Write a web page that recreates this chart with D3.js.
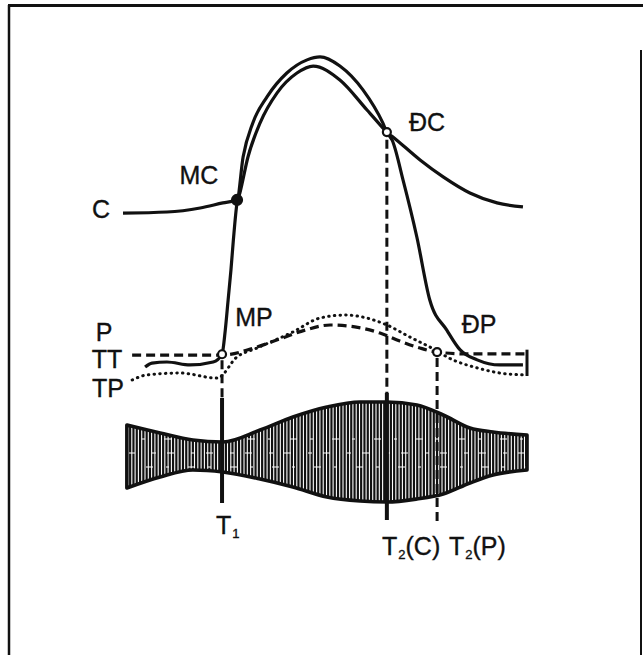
<!DOCTYPE html>
<html>
<head>
<meta charset="utf-8">
<script src="https://cdn.jsdelivr.net/npm/d3@7"></script>
<style>
body { margin: 0; background: #fff; }
text { font-family: "Liberation Sans", Arial, sans-serif; font-size: 25px; fill: #111; stroke: #111; stroke-width: 0.35; }
</style>
</head>
<body>
<svg id="chart" width="643" height="655"></svg>
<script>
// time axis is in arbitrary units 0..100, pressure in arbitrary units 0..120
var aortaTime = [0.25, 11.1, 19.3, 24.9, 28.4, 29.9, 32.3, 35.8, 40.7, 45.7, 48.9, 53.8, 59.5, 64.4, 65.4, 66.9, 73.6, 79.3, 85.9, 92.6, 99.0],
	aortaPressure = [62.2, 62.6, 64.1, 66.0, 67.1, 83.1, 95.8, 105.5, 114.4, 119.3, 120.4, 117.0, 108.1, 95.8, 92.4, 90.6, 82.0, 75.7, 69.7, 66.0, 64.5];

var ventTime = [5.7, 7.4, 11.1, 16.8, 22.5, 24.7, 25.5, 26.2, 26.9, 27.5, 28.4, 29.1, 31.1, 34.1, 38.3, 43.2, 47.2, 53.8, 60.5, 64.4, 65.4, 66.7, 69.4, 72.8, 76.0, 80.2, 83.5, 87.7, 93.3, 99.0],
	ventPressure = [4.8, 6.3, 6.7, 5.6, 6.7, 9.6, 18.6, 29.8, 41.0, 52.2, 66.0, 69.7, 83.1, 95.8, 107.0, 114.4, 117.0, 111.8, 100.6, 93.9, 92.1, 89.4, 74.5, 53.3, 29.8, 18.6, 11.2, 7.5, 5.6, 5.6];

var pulmTime = [2.5, 24.7, 33.3, 39.0, 45.2, 51.4, 57.5, 63.7, 68.6, 73.6, 77.8, 85.2, 100],
	pulmPressure = [9.3, 9.3, 12.3, 15.3, 18.6, 20.5, 19.8, 17.5, 14.5, 11.9, 10.4, 9.7, 9.7];

var rightTime = [2.5, 6.2, 14.3, 23.5, 28.4, 33.3, 42.2, 48.9, 55.1, 65.4, 71.1, 76.0, 81.7, 87.7, 93.3, 99.0],
	rightPressure = [0, 1.9, 2.6, 0.7, 8.6, 11.9, 17.9, 23.1, 24.2, 20.5, 16.0, 12.3, 7.5, 4.5, 2.6, 1.9];

// heart sound envelope (amplitude units)
var soundTime = [1.2, 9.4, 17.5, 24.9, 34.1, 42.2, 50.6, 58.8, 65.4, 72.8, 79.3, 85.9, 91.6, 100],
	soundUpper = [6, 4.4, 3, 2.6, 5, 7.6, 9.6, 10.6, 10.6, 10, 8, 5.4, 4.6, 4],
	soundLower = [-6.6, -4.4, -3, -3.4, -4.8, -6.4, -8.4, -9.2, -9.4, -8.8, -7.8, -5.6, -4, -3];

// valve events: open markers and filled marker
var events = [
	{name: "MC", t: 28.4, p: 67.1, filled: true},
	{name: "ĐC", t: 65.4, p: 92.4, filled: false},
	{name: "MP", t: 24.7, p: 9.6, filled: false},
	{name: "ĐP", t: 77.8, p: 10.4, filled: false}
];

// sound timing lines: dashed part from pressure, solid part in envelope
var soundLines = [
	{t: 24.7, fromP: 7.4, dashTo: 11.4, solidTo: -9.6, solid: true},
	{t: 65.4, fromP: 89.5, dashTo: 12.4, solidTo: -13, solid: true},
	{t: 77.8, fromP: 8.2, dashTo: -13.6, solidTo: -13.6, solid: false}
];

var svg = d3.select("#chart");

var x = d3.scaleLinear().domain([0, 100]).range([122, 527]),
	y = d3.scaleLinear().domain([0, 120]).range([380, 58]),
	ya = d3.scaleLinear().domain([-10, 10]).range([505, 405]);

// frame
svg.append("line").attr("x1", 9).attr("y1", 5).attr("x2", 9).attr("y2", 655).attr("stroke", "#111").attr("stroke-width", 2.5);
svg.append("line").attr("x1", 8).attr("y1", 5.5).attr("x2", 643).attr("y2", 5.5).attr("stroke", "#111").attr("stroke-width", 3);
svg.append("line").attr("x1", 641).attr("y1", 50).attr("x2", 641).attr("y2", 655).attr("stroke", "#111").attr("stroke-width", 2);

function zipPts(ts, ps){
	return ts.map(function(t, i){ return [t, ps[i]]; });
}

var pLine = d3.line()
	.x(function(d){ return x(d[0]); })
	.y(function(d){ return y(d[1]); })
	.curve(d3.curveMonotoneX);

// sound envelope
var env = soundTime.map(function(t, i){ return {t: t, hi: soundUpper[i], lo: soundLower[i]}; });
var envArea = d3.area()
	.x(function(d){ return x(d.t); })
	.y0(function(d){ return ya(d.lo); })
	.y1(function(d){ return ya(d.hi); })
	.curve(d3.curveMonotoneX);

svg.append("clipPath").attr("id", "envClip")
	.append("path").attr("d", envArea(env));

var hatch = svg.append("g").attr("clip-path", "url(#envClip)");
hatch.selectAll("line.h")
	.data(d3.range(x(1.2), x(100) + 2, 3.3))
	.enter().append("line")
	.attr("x1", function(d){ return d; })
	.attr("x2", function(d){ return d; })
	.attr("y1", ya(12))
	.attr("y2", ya(-12))
	.attr("stroke", "#111")
	.attr("stroke-width", 2.2);
// scanning breaks inside the hatching
[3.2, 0.4, -2.4].forEach(function(a, i){
	hatch.append("line")
		.attr("x1", x(0)).attr("x2", x(100))
		.attr("y1", ya(a)).attr("y2", ya(a))
		.attr("stroke", "#fff")
		.attr("stroke-width", 1.2)
		.attr("stroke-dasharray", i == 1 ? "4 11 7 17" : "7 13 3 19")
		.attr("stroke-dashoffset", i*9);
});

svg.append("path")
	.attr("d", envArea(env))
	.attr("fill", "none")
	.attr("stroke", "#111")
	.attr("stroke-width", 3.6)
	.attr("stroke-linejoin", "round");

// timing lines
soundLines.forEach(function(s){
	svg.append("line")
		.attr("x1", x(s.t)).attr("x2", x(s.t))
		.attr("y1", y(s.fromP)).attr("y2", ya(s.dashTo))
		.attr("stroke", "#111")
		.attr("stroke-width", 3)
		.attr("stroke-dasharray", "9 5");
	if(s.solid){
		svg.append("line")
			.attr("x1", x(s.t)).attr("x2", x(s.t))
			.attr("y1", ya(s.dashTo)).attr("y2", ya(s.solidTo))
			.attr("stroke", "#111")
			.attr("stroke-width", 4);
	}
});

// pressure curves
svg.append("path")
	.attr("d", pLine(zipPts(rightTime, rightPressure)))
	.attr("fill", "none").attr("stroke", "#111")
	.attr("stroke-width", 3)
	.attr("stroke-linecap", "round")
	.attr("stroke-dasharray", "0.5 5.2");

svg.append("path")
	.attr("d", pLine(zipPts(pulmTime, pulmPressure)))
	.attr("fill", "none").attr("stroke", "#111")
	.attr("stroke-width", 3.2)
	.attr("stroke-dasharray", "9 5");

// end tick of the pulmonary trace
svg.append("line")
	.attr("x1", x(100)).attr("x2", x(100))
	.attr("y1", y(11.3)).attr("y2", y(1.5))
	.attr("stroke", "#111").attr("stroke-width", 3);

svg.append("path")
	.attr("d", pLine(zipPts(ventTime, ventPressure)))
	.attr("fill", "none").attr("stroke", "#111")
	.attr("stroke-width", 3.2)
	.attr("stroke-linejoin", "round");

svg.append("path")
	.attr("d", pLine(zipPts(aortaTime, aortaPressure)))
	.attr("fill", "none").attr("stroke", "#111")
	.attr("stroke-width", 3.2)
	.attr("stroke-linejoin", "round");

// valve markers
svg.selectAll("circle.ev")
	.data(events)
	.enter().append("circle")
	.attr("class", "ev")
	.attr("cx", function(d){ return x(d.t); })
	.attr("cy", function(d){ return y(d.p); })
	.attr("r", function(d){ return d.filled ? 5 : 4; })
	.attr("fill", function(d){ return d.filled ? "#111" : "#fff"; })
	.attr("stroke", "#111")
	.attr("stroke-width", 2.2);

// labels
var labels = [
	{text: "C", x: 101, y: 218},
	{text: "MC", x: 199, y: 184},
	{text: "ĐC", x: 427, y: 131},
	{text: "MP", x: 254, y: 326},
	{text: "ĐP", x: 479, y: 333},
	{text: "P", x: 104, y: 341},
	{text: "TT", x: 107, y: 368},
	{text: "TP", x: 108, y: 397}
];
svg.selectAll("text.lab")
	.data(labels)
	.enter().append("text")
	.attr("class", "lab")
	.attr("x", function(d){ return d.x; })
	.attr("y", function(d){ return d.y; })
	.attr("text-anchor", "middle")
	.text(function(d){ return d.text; });

var soundLabels = [
	{sub: "1", tail: "", x: 216, y: 534},
	{sub: "2", tail: "(C)", x: 382, y: 555},
	{sub: "2", tail: "(P)", x: 449, y: 555}
];
soundLabels.forEach(function(d){
	var t = svg.append("text").attr("x", d.x).attr("y", d.y);
	t.append("tspan").text("T");
	t.append("tspan").attr("dy", 4).attr("dx", 1).style("font-size", "13px").text(d.sub);
	t.append("tspan").attr("dy", -4).text(d.tail);
});
</script>
</body>
</html>
